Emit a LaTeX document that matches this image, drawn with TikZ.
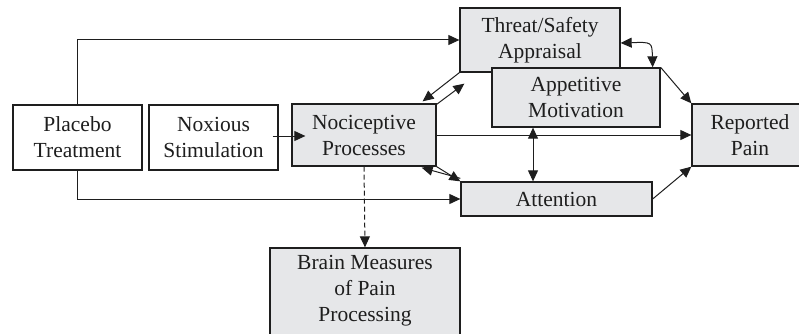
\documentclass[tikz,border=0pt]{standalone}
\usepackage{fontspec}
\setmainfont{Liberation Serif}
\usetikzlibrary{arrows.meta}
\definecolor{boxfill}{RGB}{230,231,233}
\definecolor{ink}{RGB}{30,30,30}
\begin{document}
\begin{tikzpicture}[x=1pt,y=-1pt,
  box/.style={draw=ink,line width=1.3pt,align=center,inner sep=0pt,
    font=\fontsize{21.5}{26}\selectfont,text=ink},
  wbox/.style={box,fill=white},
  gbox/.style={box,fill=boxfill},
  arr/.style={draw=ink,line width=1pt,-{Triangle[length=11pt,width=10pt]}},
  darr/.style={draw=ink,line width=1pt,{Triangle[length=11pt,width=10pt]}-{Triangle[length=11pt,width=10pt]}}]
\useasboundingbox (0,0) rectangle (799,334);
\begin{scope}
\clip (0,0) rectangle (799,334);
\node[wbox,minimum width=129pt,minimum height=65pt] (pl) at (77.5,137.5) {Placebo\\Treatment};
\node[wbox,minimum width=129pt,minimum height=65pt] (nox) at (213.5,137.5) {Noxious\\Stimulation};
\node[gbox,minimum width=144pt,minimum height=62pt] (noc) at (364,135) {Nociceptive\\Processes};
\node[gbox,minimum width=160pt,minimum height=64pt] (th) at (540,40) {Threat/Safety\\Appraisal};
\node[gbox,minimum width=168pt,minimum height=59pt] (app) at (576,97.5) {Appetitive\\Motivation};
\node[gbox,minimum width=116pt,minimum height=62pt] (rp) at (750,135) {Reported\\Pain};
\node[gbox,minimum width=191pt,minimum height=34pt] (att) at (556.5,199) {Attention};
\node[gbox,minimum width=190pt,minimum height=104pt,text depth=0pt] (br) at (365,300) {};
\node[font=\fontsize{21.5}{26}\selectfont,text=ink,align=center] (brt) at (365,291) {Brain Measures\\of Pain\\Processing};
\end{scope}
% placebo connectors
\draw[arr] (pl.north) |- (th.west);
\draw[arr] (pl.south) |- (att.west);
% noxious to nociceptive
\draw[arr] ([xshift=-6pt,yshift=1.5pt]nox.east) -- ([xshift=14pt,yshift=-1pt]noc.west);
% nociceptive to reported pain
\draw[arr] (noc.east) -- (rp.west);
% dashed to brain
\draw[arr,dashed,dash pattern=on 5pt off 3pt] (noc.south) -- (br.north);
% threat <-> nociceptive
\draw[arr] (th.south west) -- ([xshift=-14pt,yshift=2pt]noc.north east);
\draw[arr] ([yshift=-1pt]noc.north east) -- ([xshift=5pt,yshift=-11pt]th.south west);
% attention <-> nociceptive
\draw[arr] ([yshift=3pt]att.north west) -- ([xshift=-15pt,yshift=-1pt]noc.south east);
\draw[arr] (noc.south east) -- (att.north west);
% appetitive <-> attention
\draw[darr] ([xshift=-43pt]app.south) -- ([xshift=-23.5pt]att.north);
% threat <-> appetitive curved
\draw[darr] ([yshift=-3pt]th.east) .. controls (652,42) .. ([xshift=-8pt]app.north east);
% to reported pain
\draw[arr] (app.north east) -- (rp.north west);
\draw[arr] (att.east) -- (rp.south west);
\end{tikzpicture}
\end{document}
